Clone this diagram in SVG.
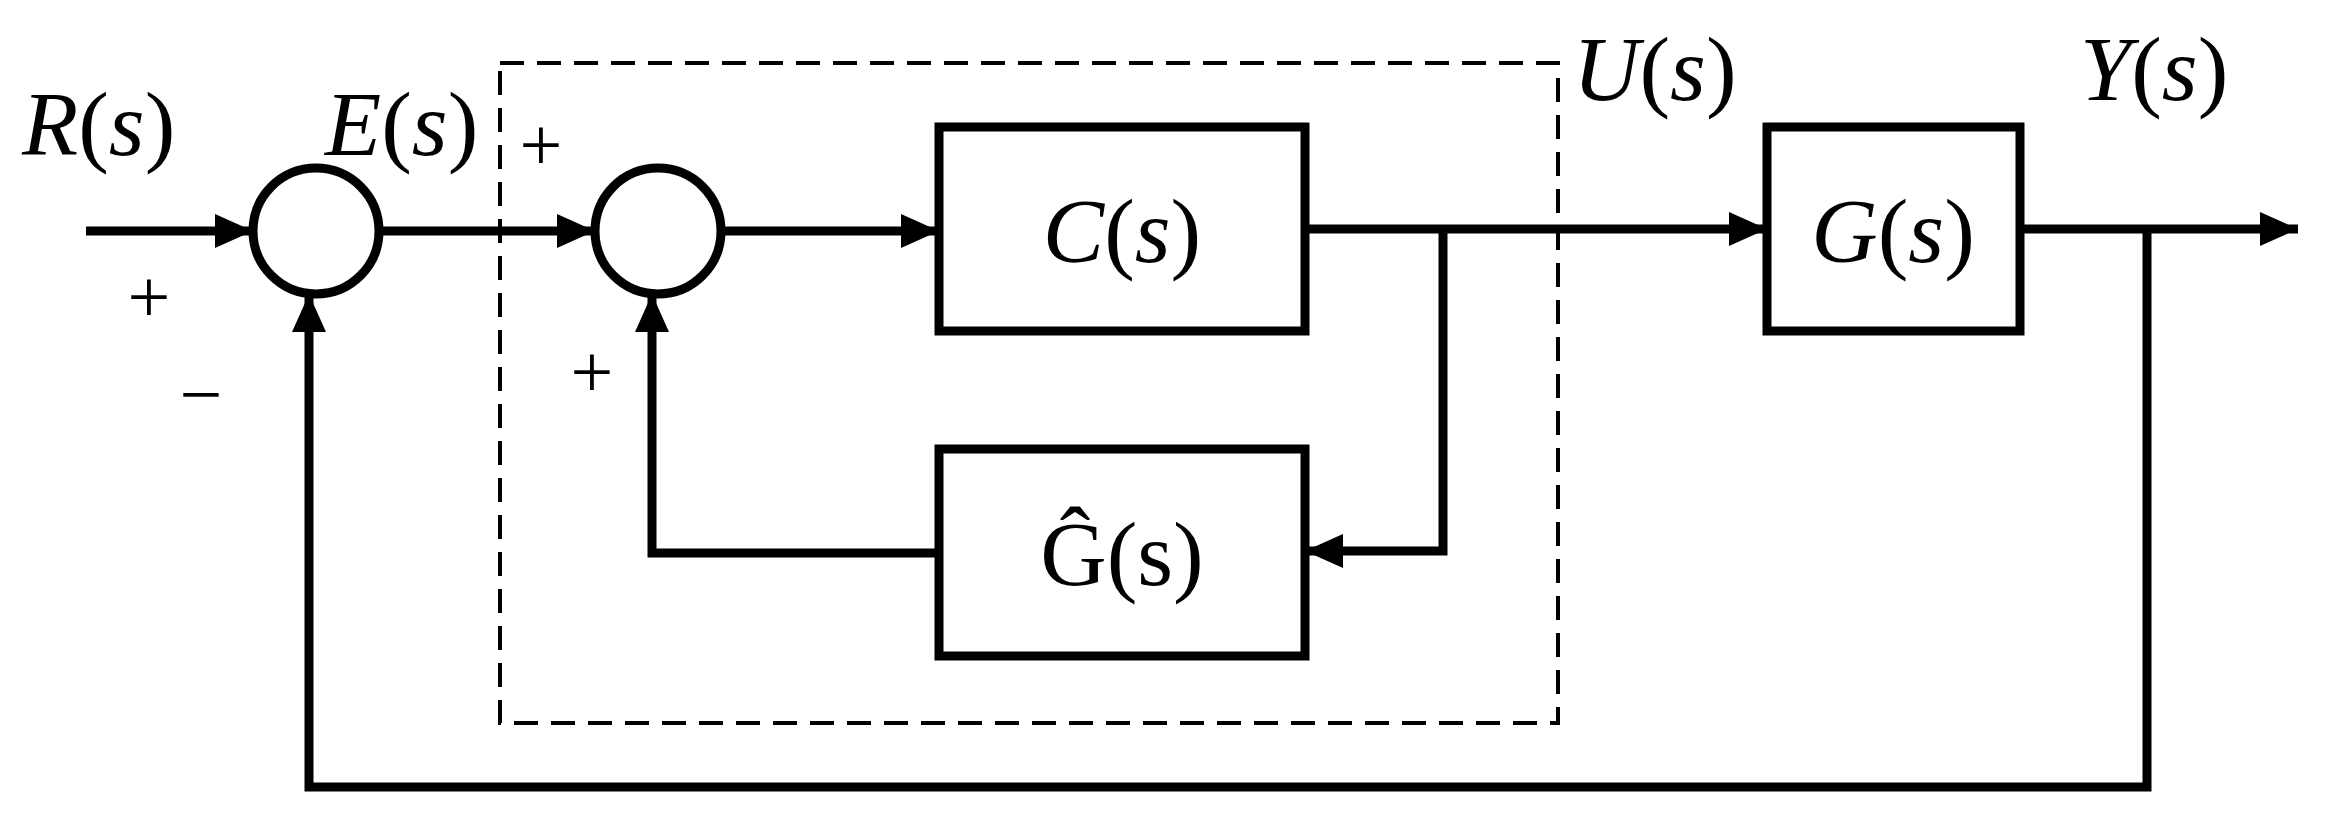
<svg xmlns="http://www.w3.org/2000/svg" width="2338" height="830" viewBox="0 0 2338 830">
<style>
.l{fill:none;stroke:#000;stroke-width:9}
.b{fill:#fff;stroke:#000;stroke-width:9}
.t{font-family:"Liberation Serif",serif;font-size:92px;fill:#000}
.i{font-style:italic}
.s{font-family:"Liberation Serif",serif;font-size:76px;fill:#000}
</style>
<defs><marker id="m" viewBox="0 0 38 34" refX="38" refY="17" markerWidth="38" markerHeight="34" markerUnits="userSpaceOnUse" orient="auto"><path d="M0,0L38,17L0,34z" fill="#000"/></marker></defs>
<rect x="500" y="63" width="1058" height="660" fill="none" stroke="#000" stroke-width="4" stroke-dasharray="24,13"/>
<g id="connectors">
<path class="l" d="M86,231H253" marker-end="url(#m)"/>
<path class="l" d="M379,231H595" marker-end="url(#m)"/>
<path class="l" d="M721,231H939" marker-end="url(#m)"/>
<path class="l" d="M1305,229H1767" marker-end="url(#m)"/>
<path class="l" d="M1443,229V551H1305" marker-end="url(#m)"/>
<path class="l" d="M939,553H652V294" marker-end="url(#m)"/>
<path class="l" d="M2020,229H2298" marker-end="url(#m)"/>
<path class="l" d="M2147,229V787H309V294" marker-end="url(#m)"/>
</g>
<g id="sum1"><circle class="b" cx="316" cy="231" r="63"/></g>
<g id="sum2"><circle class="b" cx="658" cy="231" r="63"/></g>
<g id="C"><rect class="b" x="939" y="127" width="366" height="204"/><text class="t" x="1122" y="262" text-anchor="middle"><tspan class="i">C</tspan>(<tspan class="i">s</tspan>)</text></g>
<g id="Ghat"><rect class="b" x="939" y="449" width="366" height="207"/><text class="t" x="1122" y="585" text-anchor="middle">Ĝ(s)</text></g>
<g id="G"><rect class="b" x="1767" y="127" width="253" height="204"/><text class="t" x="1893" y="262" text-anchor="middle"><tspan class="i">G</tspan>(<tspan class="i">s</tspan>)</text></g>
<g id="labels">
<text class="t" x="22" y="155"><tspan class="i">R</tspan>(<tspan class="i">s</tspan>)</text>
<text class="t" x="325" y="155"><tspan class="i">E</tspan>(<tspan class="i">s</tspan>)</text>
<text class="t" x="1573" y="100"><tspan class="i">U</tspan>(<tspan class="i">s</tspan>)</text>
<text class="t" x="2080" y="100"><tspan class="i">Y</tspan>(<tspan class="i">s</tspan>)</text>
<text class="s" x="149" y="322" text-anchor="middle">+</text>
<text class="s" x="201" y="420" text-anchor="middle">−</text>
<text class="s" x="541" y="170" text-anchor="middle">+</text>
<text class="s" x="592" y="397" text-anchor="middle">+</text>
</g>
</svg>
